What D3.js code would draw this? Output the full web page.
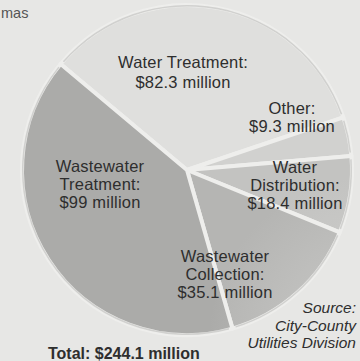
<!DOCTYPE html>
<html>
<head>
<meta charset="utf-8">
<script src="https://cdn.jsdelivr.net/npm/d3@7/dist/d3.min.js"></script>
<style>
  html, body { margin: 0; padding: 0; background: #e7e7e5; }
  svg { display: block; }
  text { font-family: "Liberation Sans", Arial, Helvetica, sans-serif; fill: #2e2e2e; }
</style>
</head>
<body>
<svg id="chart" width="360" height="361"></svg>
<script>
// Utilities budget by division, in millions of dollars
const categories = ["Water Treatment", "Other", "Water Distribution", "Wastewater Collection", "Wastewater Treatment"];
const values = [82.3, 9.3, 18.4, 35.1, 99];
const nameLines = [
  ["Water Treatment:"],
  ["Other:"],
  ["Water", "Distribution:"],
  ["Wastewater", "Collection:"],
  ["Wastewater", "Treatment:"]
];
const totalLabel = "Total: $244.1 million";
const sourceLines = ["Source:", "City-County", "Utilities Division"];
const headFragment = "mas";

const slices = categories.map((name, i) => ({ name, value: values[i], lines: nameLines[i] }));

// layout
const cx = 187, cy = 170, radius = 165;
const startDeg = -50;
const fills = [
  ["#e7e7e5", "#dfdfdd"],
  ["#dbdbd9", "#d1d1cf"],
  ["#d1d1cf", "#c3c3c1"],
  ["#cbcbc9", "#b5b5b3"],
  ["#cbcbc9", "#ababa9"]
];
// label anchors: centre x and first baseline, plus line step
const labelPos = [
  { x: 183, y: 68, step: 20 },
  { x: 292, y: 114, step: 18 },
  { x: 295, y: 173, step: 18 },
  { x: 225, y: 262, step: 18 },
  { x: 100, y: 172, step: 18 }
];

const svg = d3.select("#chart");
const defs = svg.append("defs");
fills.forEach((f, i) => {
  const g = defs.append("radialGradient")
    .attr("id", "grad" + i)
    .attr("gradientUnits", "userSpaceOnUse")
    .attr("cx", cx).attr("cy", cy).attr("r", radius);
  g.append("stop").attr("offset", "0%").attr("stop-color", f[0]);
  g.append("stop").attr("offset", "100%").attr("stop-color", f[1]);
});

const rad = startDeg * Math.PI / 180;
const pie = d3.pie().sort(null).value(d => d.value)
  .startAngle(rad).endAngle(rad + 2 * Math.PI);
const arc = d3.arc().innerRadius(0).outerRadius(radius);

const g = svg.append("g").attr("transform", `translate(${cx},${cy})`);
g.selectAll("path.slice")
  .data(pie(slices))
  .join("path")
  .attr("class", "slice")
  .attr("d", arc)
  .attr("fill", (d, i) => `url(#grad${i})`)
  .attr("stroke", "#eeeeec")
  .attr("stroke-width", 4)
  .attr("stroke-linejoin", "round");

// faint outer rim
g.selectAll("path.rim")
  .data(pie(slices))
  .join("path")
  .attr("class", "rim")
  .attr("d", d3.arc().innerRadius(radius - 1.5).outerRadius(radius).padAngle(0.03))
  .attr("fill", "#b4b4b2")
  .attr("opacity", 0.5);

const fmt = v => "$" + v + " million";
slices.forEach((s, i) => {
  const p = labelPos[i];
  const lines = s.lines.concat([fmt(s.value)]);
  const t = svg.append("text")
    .attr("text-anchor", "middle")
    .attr("font-size", 16.5)
    .attr("letter-spacing", 0.2);
  lines.forEach((ln, k) => {
    t.append("tspan").attr("x", p.x).attr("y", p.y + k * p.step).text(ln);
  });
});

// source note
const src = svg.append("text")
  .attr("text-anchor", "end")
  .attr("font-size", 15.5)
  .attr("font-style", "italic");
sourceLines.forEach((ln, k) => {
  src.append("tspan").attr("x", 356).attr("y", 313 + k * 17.5).text(ln);
});

// total
svg.append("text")
  .attr("x", 48).attr("y", 359)
  .attr("font-size", 16)
  .attr("font-weight", "bold")
  .text(totalLabel);

// tail of the preceding caption line
svg.append("text")
  .attr("x", 1).attr("y", 18)
  .attr("font-size", 14.5)
  .style("fill", "#555")
  .text(headFragment);
</script>
</body>
</html>
